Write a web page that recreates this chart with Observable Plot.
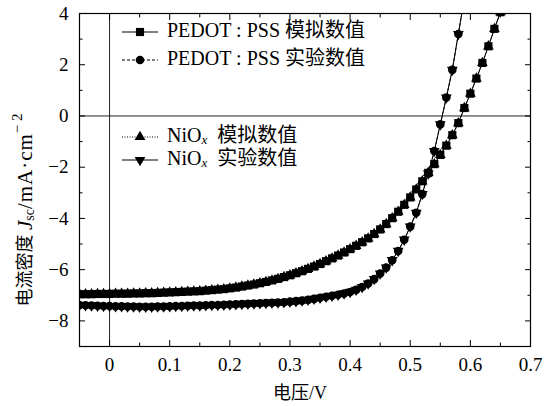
<!DOCTYPE html>
<html><head><meta charset="utf-8">
<script src="https://cdn.jsdelivr.net/npm/d3@7"></script>
<script src="https://cdn.jsdelivr.net/npm/@observablehq/plot@0.6"></script>
<style>
body{margin:0;background:#fff;}
#chart{width:560px;height:406px;}
</style></head><body><div id="chart"></div>
<script>
// Voltage grids (V)
const voltsSim = [-0.05,-0.04,-0.03,-0.02,-0.01,0.00,0.01,0.02,0.03,0.04,0.05,0.06,0.07,0.08,0.09,0.10,0.11,0.12,0.13,0.14,0.15,0.16,0.17,0.18,0.19,0.20,0.21,0.22,0.23,0.24,0.25,0.26,0.27,0.28,0.29,0.30,0.31,0.32,0.33,0.34,0.35,0.36,0.37,0.38,0.39,0.40,0.41,0.42,0.43,0.44,0.45,0.46,0.47,0.48,0.49,0.50,0.51,0.52,0.53,0.54,0.55,0.56,0.57,0.58,0.59,0.60,0.61,0.62,0.63,0.64,0.65];
const voltsExp = [-0.05,-0.04,-0.03,-0.02,-0.01,0.00,0.01,0.02,0.03,0.04,0.05,0.06,0.07,0.08,0.09,0.10,0.11,0.12,0.13,0.14,0.15,0.16,0.17,0.18,0.19,0.20,0.21,0.22,0.23,0.24,0.25,0.26,0.27,0.28,0.29,0.30,0.31,0.32,0.33,0.34,0.35,0.36,0.37,0.38,0.39,0.40,0.41,0.42,0.43,0.44,0.45,0.46,0.47,0.48,0.49,0.50,0.51,0.52,0.53,0.54,0.55,0.56,0.57,0.58,0.59];

// Current density (mA/cm^2)
const pedotSim = [-6.96,-6.96,-6.96,-6.95,-6.95,-6.95,-6.94,-6.94,-6.94,-6.93,-6.93,-6.92,-6.92,-6.91,-6.90,-6.89,-6.88,-6.87,-6.86,-6.85,-6.84,-6.82,-6.80,-6.78,-6.76,-6.73,-6.70,-6.66,-6.62,-6.58,-6.53,-6.48,-6.42,-6.36,-6.29,-6.22,-6.14,-6.06,-5.97,-5.88,-5.78,-5.67,-5.56,-5.45,-5.33,-5.20,-5.07,-4.93,-4.78,-4.61,-4.43,-4.22,-3.99,-3.74,-3.47,-3.18,-2.87,-2.55,-2.22,-1.88,-1.52,-1.16,-0.75,-0.28,0.31,0.87,1.46,2.07,2.72,3.40,4.05];
const niOxSim  = [-6.96,-6.96,-6.96,-6.95,-6.95,-6.95,-6.94,-6.94,-6.94,-6.93,-6.93,-6.92,-6.92,-6.91,-6.90,-6.89,-6.88,-6.87,-6.86,-6.85,-6.84,-6.82,-6.80,-6.78,-6.76,-6.73,-6.70,-6.66,-6.62,-6.58,-6.53,-6.48,-6.42,-6.36,-6.29,-6.22,-6.14,-6.06,-5.97,-5.88,-5.78,-5.67,-5.56,-5.45,-5.33,-5.20,-5.07,-4.93,-4.78,-4.61,-4.43,-4.22,-3.99,-3.74,-3.47,-3.18,-2.87,-2.55,-2.22,-1.88,-1.52,-1.16,-0.75,-0.28,0.31,0.87,1.46,2.07,2.72,3.40,4.05];
const pedotExp = [-7.38,-7.39,-7.40,-7.41,-7.42,-7.42,-7.43,-7.43,-7.44,-7.44,-7.45,-7.45,-7.45,-7.44,-7.44,-7.43,-7.42,-7.42,-7.41,-7.40,-7.40,-7.39,-7.38,-7.38,-7.37,-7.36,-7.35,-7.34,-7.33,-7.32,-7.31,-7.30,-7.29,-7.28,-7.27,-7.25,-7.23,-7.21,-7.18,-7.14,-7.10,-7.06,-7.02,-6.98,-6.93,-6.87,-6.79,-6.68,-6.54,-6.37,-6.15,-5.92,-5.63,-5.27,-4.83,-4.32,-3.78,-3.05,-2.25,-1.37,-0.33,0.72,1.80,3.20,4.60];
const niOxExp  = [-7.38,-7.39,-7.40,-7.41,-7.42,-7.42,-7.43,-7.43,-7.44,-7.44,-7.45,-7.45,-7.45,-7.44,-7.44,-7.43,-7.42,-7.42,-7.41,-7.40,-7.40,-7.39,-7.38,-7.38,-7.37,-7.36,-7.35,-7.34,-7.33,-7.32,-7.31,-7.30,-7.29,-7.28,-7.27,-7.25,-7.23,-7.21,-7.18,-7.14,-7.10,-7.06,-7.02,-6.98,-6.93,-6.87,-6.79,-6.68,-6.54,-6.37,-6.15,-5.92,-5.63,-5.27,-4.83,-4.32,-3.78,-3.05,-2.25,-1.37,-0.33,0.72,1.80,3.20,4.60];

// Ticks
const xMajor = [0, 0.1, 0.2, 0.3, 0.4, 0.5, 0.6, 0.7];
const xMinor = [-0.05, 0.05, 0.15, 0.25, 0.35, 0.45, 0.55, 0.65];
const yMajor = [-8, -6, -4, -2, 0, 2, 4];
const yMinor = [-9, -7, -5, -3, -1, 1, 3];

// Labels
const seriesNames = ["PEDOT : PSS 模拟数值", "PEDOT : PSS 实验数值", "模拟数值", "实验数值"];
const xTitle = "电压/V";

const serif = "'Liberation Serif', 'Noto Sans CJK SC', serif";

const sqrt3 = Math.sqrt(3);
const triangleDown = {
  draw(ctx, size) {
    const y = -Math.sqrt(size / (sqrt3 * 3));
    ctx.moveTo(0, -2 * y);
    ctx.lineTo(-sqrt3 * y, y);
    ctx.lineTo(sqrt3 * y, y);
    ctx.closePath();
  }
};

const toPts = (vs, js) => vs.map((v, i) => ({v, j: js[i]}));
const sPedotSim = toPts(voltsSim, pedotSim);
const sNiSim = toPts(voltsSim, niOxSim);
const sPedotExp = toPts(voltsExp, pedotExp);
const sNiExp = toPts(voltsExp, niOxExp);

const fmt = d => d < 0 ? "\u2212" + String(-d) : String(d);

const rSq = 4.6, rTri = 4.0, rCir = 4.3;

const plot = Plot.plot({
  width: 560, height: 406,
  marginLeft: 79, marginRight: 30, marginTop: 13, marginBottom: 60,
  style: {fontFamily: serif, fontSize: "19px", background: "white", color: "black", overflow: "visible"},
  x: {domain: [-0.05, 0.7], label: null},
  y: {domain: [-9, 4], label: null},
  marks: [
    Plot.ruleY([0], {stroke: "#222", strokeWidth: 1}),
    Plot.ruleX([0], {stroke: "#222", strokeWidth: 1}),
    Plot.line(sPedotSim, {x: "v", y: "j", stroke: "black", strokeWidth: 1, clip: true}),
    Plot.line(sNiSim, {x: "v", y: "j", stroke: "black", strokeWidth: 1, strokeDasharray: "1,1.5", clip: true}),
    Plot.line(sPedotExp, {x: "v", y: "j", stroke: "black", strokeWidth: 1, strokeDasharray: "3,2", clip: true}),
    Plot.line(sNiExp, {x: "v", y: "j", stroke: "black", strokeWidth: 1, clip: true}),
    Plot.dot(sPedotSim, {x: "v", y: "j", symbol: "square", r: rSq, fill: "black", clip: true}),
    Plot.dot(sNiSim, {x: "v", y: "j", symbol: "triangle", r: rTri, fill: "black", clip: true}),
    Plot.dot(sPedotExp, {x: "v", y: "j", symbol: "circle", r: rCir, fill: "black", clip: true}),
    Plot.dot(sNiExp, {x: "v", y: "j", symbol: triangleDown, r: rTri, fill: "black", clip: true}),
    Plot.frame({stroke: "black", strokeWidth: 1.2}),
    Plot.axisX(xMajor, {anchor: "bottom", tickSize: -6, tickPadding: 17, tickFormat: fmt, label: null}),
    Plot.axisX(xMinor, {anchor: "bottom", tickSize: -3.5, tickFormat: () => "", label: null}),
    Plot.axisX(xMajor, {anchor: "top", tickSize: -6, tickFormat: () => "", label: null}),
    Plot.axisX(xMinor, {anchor: "top", tickSize: -3.5, tickFormat: () => "", label: null}),
    Plot.axisY(yMajor, {anchor: "left", tickSize: -6, tickPadding: 17, tickFormat: fmt, label: null}),
    Plot.axisY(yMinor, {anchor: "left", tickSize: -3.5, tickFormat: () => "", label: null}),
    Plot.axisY(yMajor, {anchor: "right", tickSize: -6, tickFormat: () => "", label: null}),
    Plot.axisY(yMinor, {anchor: "right", tickSize: -3.5, tickFormat: () => "", label: null})
  ]
});
document.getElementById("chart").appendChild(plot);

const svg = d3.select(plot);

// x title
svg.append("text").attr("x", 300).attr("y", 395)
  .attr("text-anchor", "middle").attr("dominant-baseline", "middle")
  .attr("font-family", serif).attr("font-size", 18).text(xTitle);

// y title
const yt = svg.append("text")
  .attr("transform", "translate(27,210) rotate(-90)")
  .attr("text-anchor", "middle").attr("dominant-baseline", "middle")
  .attr("font-family", serif).attr("font-size", 18);
yt.append("tspan").text("电流密度 ");
yt.append("tspan").attr("font-style", "italic").attr("font-size", 21).text("J");
yt.append("tspan").attr("font-size", 14).attr("font-style", "normal").attr("dy", 4).text("sc");
yt.append("tspan").attr("dy", -4).attr("font-size", 21).attr("letter-spacing", 1).text("/mA·cm");
yt.append("tspan").attr("font-size", 15).attr("dy", -8).text("\u2212 2");

// legend
const legend = [
  {y: 32, sym: d3.symbolSquare, size: Math.PI * rSq * rSq, dash: null, name: seriesNames[0]},
  {y: 60, sym: d3.symbolCircle, size: Math.PI * rCir * rCir, dash: "3,2", name: seriesNames[1]},
  {y: 137, sym: d3.symbolTriangle, size: Math.PI * rTri * rTri, dash: "1,1.5", name: null, tail: seriesNames[2]},
  {y: 160, sym: triangleDown, size: Math.PI * rTri * rTri, dash: null, name: null, tail: seriesNames[3]}
];
const lg = svg.append("g").attr("text-anchor", "start");
legend.forEach(e => {
  lg.append("line").attr("x1", 122).attr("x2", 158).attr("y1", e.y).attr("y2", e.y)
    .attr("stroke", "black").attr("stroke-width", 1).attr("stroke-dasharray", e.dash);
  lg.append("path").attr("transform", `translate(140,${e.y})`)
    .attr("d", d3.symbol(e.sym, e.size)()).attr("fill", "black");
  const t = lg.append("text").attr("x", 167).attr("y", e.y).attr("text-anchor", "start")
    .attr("dominant-baseline", "middle").attr("font-family", serif).attr("font-size", 20);
  if (e.name) {
    t.text(e.name);
  } else {
    t.append("tspan").text("NiO");
    t.append("tspan").attr("font-style", "italic").attr("font-size", 13).attr("dy", 4).text("x");
    t.append("tspan").attr("dy", -4).text("\u2002" + e.tail);
  }
});
</script>
</body></html>
